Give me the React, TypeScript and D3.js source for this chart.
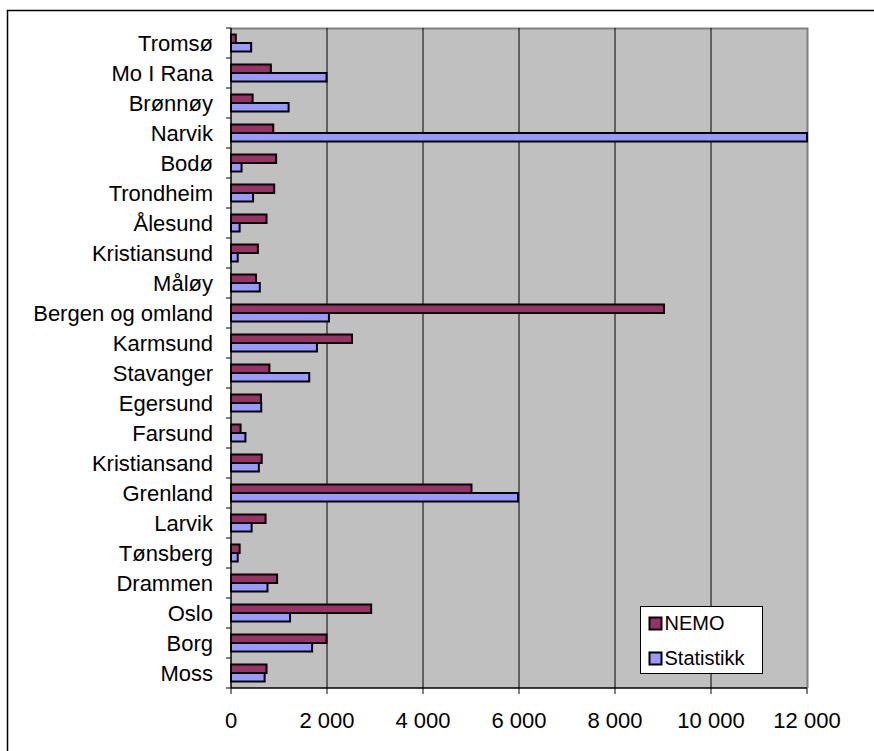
import { useEffect, useRef } from "react";
import * as d3 from "d3";

const categories = [
  "Tromsø", "Mo I Rana", "Brønnøy", "Narvik", "Bodø", "Trondheim", "Ålesund",
  "Kristiansund", "Måløy", "Bergen og omland", "Karmsund", "Stavanger", "Egersund",
  "Farsund", "Kristiansand", "Grenland", "Larvik", "Tønsberg", "Drammen", "Oslo",
  "Borg", "Moss",
];
const nemo = [100, 830, 450, 880, 940, 900, 740, 560, 520, 9020, 2520, 800, 625, 200, 640, 5010, 720, 180, 960, 2920, 1990, 740];
const statistikk = [420, 1990, 1200, 12000, 220, 460, 180, 140, 600, 2040, 1790, 1630, 630, 300, 580, 5980, 430, 140, 760, 1230, 1690, 700];
const seriesNames = ["NEMO", "Statistikk"];
const seriesColors = ["#993366", "#9999ff"];
const xTicks = [0, 2000, 4000, 6000, 8000, 10000, 12000];

const W = 874;
const H = 751;
const FONT = "'Liberation Sans', Arial, sans-serif";

export default function App() {
  const svgRef = useRef<SVGSVGElement>(null);

  useEffect(() => {
    if (!svgRef.current) return;
    const svg = d3.select(svgRef.current);
    svg.selectAll("*").remove();

    const left = 231;
    const right = 807;
    const top = 28;
    const bottom = 688;

    const x = d3.scaleLinear().domain([0, 12000]).range([left, right]);
    const y = d3.scaleBand<string>().domain(categories).range([top, bottom]);
    const inner = d3.scaleBand<string>().domain(seriesNames).range([6.5, 23.5]);

    // outer chart frame
    svg.append("rect")
      .attr("x", 7.5).attr("y", 10.5)
      .attr("width", W + 20).attr("height", H + 20)
      .attr("fill", "#fff").attr("stroke", "#000").attr("stroke-width", 1.5);

    // plot area
    svg.append("rect")
      .attr("x", left).attr("y", top)
      .attr("width", right - left).attr("height", bottom - top)
      .attr("fill", "#c0c0c0");
    svg.append("path")
      .attr("d", `M${left},${top + 0.5} H${right + 0.5} V${bottom}`)
      .attr("fill", "none").attr("stroke", "#808080").attr("stroke-width", 2);

    // gridlines
    svg.append("g").selectAll("line")
      .data(xTicks.slice(1, -1))
      .join("line")
      .attr("x1", (d) => x(d)).attr("x2", (d) => x(d))
      .attr("y1", top).attr("y2", bottom)
      .attr("stroke", "#000").attr("stroke-width", 1);

    // bars
    const series = [nemo, statistikk];
    series.forEach((vals, si) => {
      svg.append("g").selectAll("rect")
        .data(categories)
        .join("rect")
        .attr("x", left)
        .attr("y", (c) => (y(c) as number) + (inner(seriesNames[si]) as number))
        .attr("width", (_, i) => x(vals[i]) - left)
        .attr("height", inner.bandwidth())
        .attr("fill", seriesColors[si])
        .attr("stroke", "#000")
        .attr("stroke-width", 2);
    });

    // y axis
    const yAxis = svg.append("g");
    yAxis.append("line")
      .attr("x1", left).attr("x2", left).attr("y1", top).attr("y2", bottom)
      .attr("stroke", "#000").attr("stroke-width", 1.5);
    yAxis.selectAll("line.tick")
      .data([...categories.map((c) => y(c) as number), bottom])
      .join("line")
      .attr("class", "tick")
      .attr("x1", left - 5).attr("x2", left)
      .attr("y1", (d) => d).attr("y2", (d) => d)
      .attr("stroke", "#000").attr("stroke-width", 1);
    yAxis.selectAll("text")
      .data(categories)
      .join("text")
      .attr("x", 213)
      .attr("y", (c) => (y(c) as number) + y.bandwidth() / 2 + 7.5)
      .attr("text-anchor", "end")
      .attr("font-family", FONT)
      .attr("font-size", 22)
      .attr("fill", "#000")
      .text((c) => c);

    // x axis
    const xAxis = svg.append("g");
    xAxis.append("line")
      .attr("x1", left).attr("x2", right).attr("y1", bottom).attr("y2", bottom)
      .attr("stroke", "#000").attr("stroke-width", 1.5);
    xAxis.selectAll("line.tick")
      .data(xTicks)
      .join("line")
      .attr("class", "tick")
      .attr("x1", (d) => x(d)).attr("x2", (d) => x(d))
      .attr("y1", bottom).attr("y2", bottom + 6)
      .attr("stroke", "#000").attr("stroke-width", 1);
    const fmt = (v: number) => d3.format(",")(v).replace(/,/g, " ");
    xAxis.selectAll("text")
      .data(xTicks)
      .join("text")
      .attr("x", (d) => x(d))
      .attr("y", 728)
      .attr("text-anchor", "middle")
      .attr("font-family", FONT)
      .attr("font-size", 22)
      .attr("fill", "#000")
      .text((d) => fmt(d));

    // legend
    const lg = svg.append("g").attr("transform", "translate(640.5,606.5)");
    lg.append("rect")
      .attr("width", 122).attr("height", 67)
      .attr("fill", "#fff").attr("stroke", "#000").attr("stroke-width", 1);
    seriesNames.forEach((name, i) => {
      lg.append("rect")
        .attr("x", 9).attr("y", 11 + i * 35)
        .attr("width", 12).attr("height", 12)
        .attr("fill", seriesColors[i]).attr("stroke", "#000").attr("stroke-width", 2);
      lg.append("text")
        .attr("x", 24).attr("y", 23 + i * 35)
        .attr("font-family", FONT).attr("font-size", 20).attr("fill", "#000")
        .text(name);
    });
  }, []);

  return (
    <svg
      ref={svgRef}
      width={W}
      height={H}
      style={{ position: "absolute", left: 0, top: 0, display: "block" }}
    />
  );
}
